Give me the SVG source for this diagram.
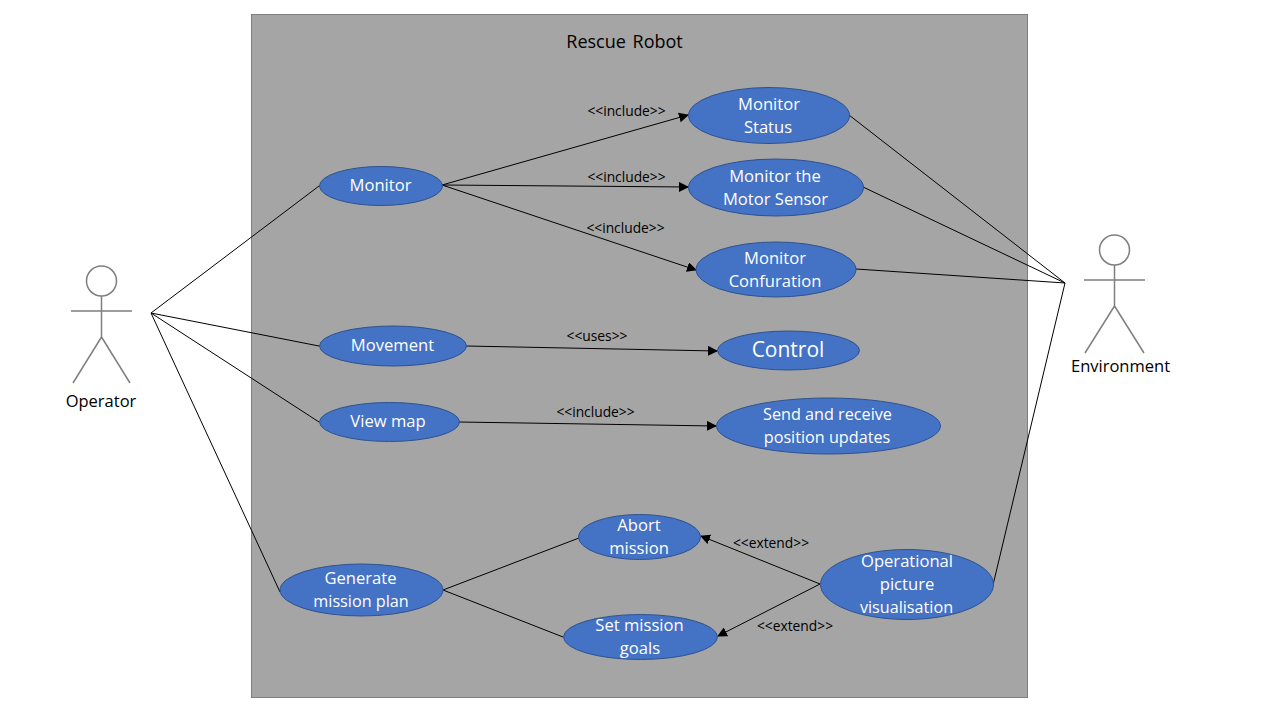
<svg xmlns="http://www.w3.org/2000/svg" width="1280" height="720" viewBox="0 0 1280 720">
<style>
text{font-family:"Open Sans","Noto Sans","Liberation Sans",sans-serif;text-anchor:middle}
.uc ellipse{fill:#4472c4;stroke:#2f528f;stroke-width:1}
.uc text{fill:#fff;font-size:16.6px}
.uc text.sm{font-size:16.2px}
.lbl{font-size:13.8px;fill:#000}
.act{font-size:16.5px;fill:#000}
.stick{fill:none;stroke:#7f7f7f;stroke-width:1.5}
.c line{stroke:#000;stroke-width:1}
.a{marker-end:url(#arr)}
</style>
<defs><marker id="arr" markerUnits="userSpaceOnUse" markerWidth="10" markerHeight="10" refX="9" refY="5" orient="auto"><path d="M0 0L10 5L0 10Z" fill="#000"/></marker></defs>
<rect width="1280" height="720" fill="#fff"/>
<g id="system"><rect x="251.500" y="14.500" width="776" height="683" fill="#a5a5a5" stroke="#7f7f7f"/><text x="624.500" y="48" style="font-size:18px;word-spacing:2px">Rescue Robot</text></g>
<g id="connectors" class="c">
<line x1="151" y1="313" x2="319" y2="186"/>
<line x1="151" y1="313" x2="319" y2="346"/>
<line x1="151" y1="313" x2="319" y2="422"/>
<line x1="151" y1="313" x2="280" y2="592"/>
<line class="a" x1="442" y1="185" x2="688" y2="115"/>
<line class="a" x1="442" y1="185" x2="688" y2="187"/>
<line class="a" x1="442" y1="185" x2="696" y2="270"/>
<line class="a" x1="466" y1="346" x2="717" y2="351"/>
<line class="a" x1="459" y1="422" x2="716" y2="426"/>
<line x1="849" y1="115" x2="1065" y2="283"/>
<line x1="863" y1="187" x2="1065" y2="283"/>
<line x1="856" y1="269" x2="1065" y2="283"/>
<line x1="993" y1="585" x2="1065" y2="283"/>
<line x1="443" y1="590" x2="579" y2="538"/>
<line x1="443" y1="590" x2="563" y2="637"/>
<line class="a" x1="820" y1="584" x2="701" y2="536"/>
<line class="a" x1="820" y1="584" x2="718" y2="636"/>
</g>
<g id="edge-labels">
<text class="lbl" x="626.500" y="116">&lt;&lt;include&gt;&gt;</text>
<text class="lbl" x="626.500" y="182">&lt;&lt;include&gt;&gt;</text>
<text class="lbl" x="625.500" y="233">&lt;&lt;include&gt;&gt;</text>
<text class="lbl" x="597" y="341">&lt;&lt;uses&gt;&gt;</text>
<text class="lbl" x="595.500" y="417">&lt;&lt;include&gt;&gt;</text>
<text class="lbl" x="771" y="548">&lt;&lt;extend&gt;&gt;</text>
<text class="lbl" x="795" y="631">&lt;&lt;extend&gt;&gt;</text>
</g>
<g id="operator"><circle class="stick" cx="101.500" cy="281" r="15"/><path class="stick" d="M101.500 296V337M71 311H132M101.500 337L73 383M101.500 337L130 383"/><text class="act" x="101" y="407">Operator</text></g>
<g id="environment"><circle class="stick" cx="1114.500" cy="250" r="15"/><path class="stick" d="M1114.500 265V306M1084 280H1145M1114.500 306L1085 353M1114.500 306L1144 353"/><text class="act" x="1120.500" y="372">Environment</text></g>
<g id="monitor" class="uc"><ellipse cx="381" cy="186" rx="61.500" ry="19.500"/><text x="380.500" y="191">Monitor</text></g>
<g id="movement" class="uc"><ellipse cx="393" cy="346" rx="73.500" ry="20"/><text x="392.500" y="351">Movement</text></g>
<g id="viewmap" class="uc"><ellipse cx="389.500" cy="422" rx="70" ry="19.500"/><text x="388" y="427">View map</text></g>
<g id="generate" class="uc"><ellipse cx="361.500" cy="590" rx="81.500" ry="26"/><text x="360.500" y="584">Generate</text><text x="361" y="607" class="sm">mission plan</text></g>
<g id="mstatus" class="uc"><ellipse cx="769" cy="115.500" rx="80.500" ry="28"/><text x="769" y="110">Monitor</text><text x="768" y="133">Status</text></g>
<g id="mmotor" class="uc"><ellipse cx="776" cy="187.500" rx="87.500" ry="28.500"/><text x="775" y="182">Monitor the</text><text x="775.500" y="205">Motor Sensor</text></g>
<g id="mconf" class="uc"><ellipse cx="776" cy="269.500" rx="80" ry="27.500"/><text x="775" y="264">Monitor</text><text x="775" y="287">Confuration</text></g>
<g id="control" class="uc"><ellipse cx="788.500" cy="350.500" rx="71" ry="19.500"/><text x="788" y="357" style="font-size:21px">Control</text></g>
<g id="sendrecv" class="uc"><ellipse cx="828.500" cy="426" rx="112" ry="28"/><text x="827.500" y="420" class="sm">Send and receive</text><text x="827" y="443" class="sm">position updates</text></g>
<g id="abort" class="uc"><ellipse cx="639.500" cy="537" rx="61" ry="22.500"/><text x="639" y="531">Abort</text><text x="639" y="554">mission</text></g>
<g id="goals" class="uc"><ellipse cx="640.500" cy="637" rx="77" ry="22.500"/><text x="639.500" y="631">Set mission</text><text x="640" y="654">goals</text></g>
<g id="opvis" class="uc"><ellipse cx="907" cy="584.500" rx="86.500" ry="35"/><text x="907" y="567">Operational</text><text x="907" y="590">picture</text><text x="906.500" y="613" class="sm">visualisation</text></g>
</svg>
